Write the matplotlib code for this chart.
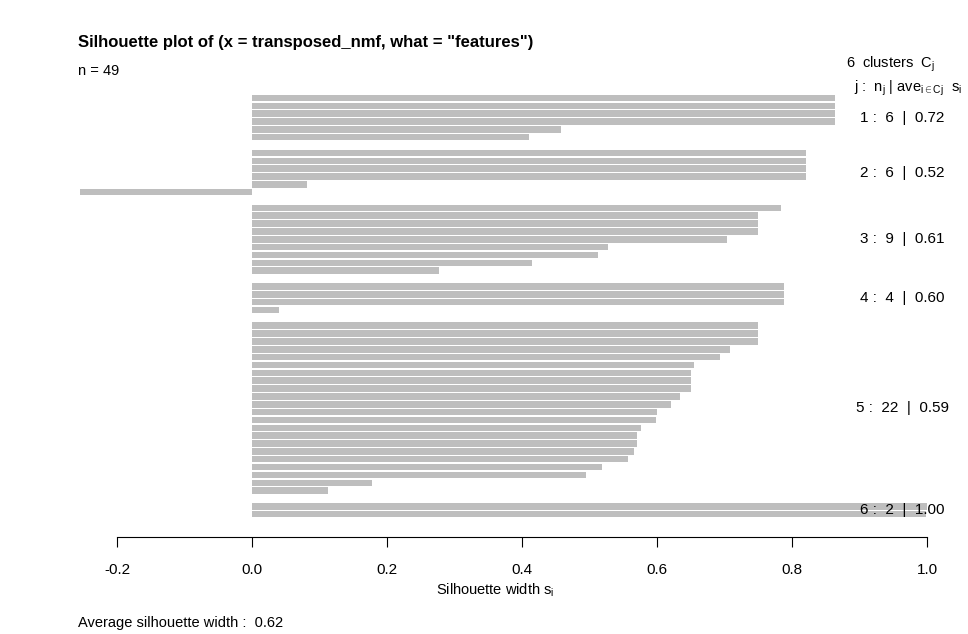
import matplotlib
matplotlib.use("Agg")
import matplotlib.pyplot as plt

plt.rcParams['font.family'] = ['Liberation Sans', 'DejaVu Sans']
plt.rcParams['mathtext.fontset'] = 'custom'
plt.rcParams['mathtext.rm'] = 'Liberation Sans'
plt.rcParams['mathtext.it'] = 'Liberation Sans'

# silhouette widths per cluster, sorted within cluster
clusters = [1, 2, 3, 4, 5, 6]
sil_widths = [
    [0.864, 0.864, 0.864, 0.864, 0.457, 0.410],
    [0.820, 0.820, 0.820, 0.820, 0.082, -0.255],
    [0.784, 0.749, 0.749, 0.749, 0.703, 0.528, 0.513, 0.415, 0.277],
    [0.788, 0.788, 0.788, 0.040],
    [0.749, 0.749, 0.749, 0.708, 0.693, 0.655, 0.651, 0.650, 0.650, 0.634, 0.621,
     0.600, 0.598, 0.576, 0.570, 0.570, 0.566, 0.557, 0.518, 0.495, 0.178, 0.112],
    [1.000, 0.999],
]
cluster_avg = ["0.72", "0.52", "0.61", "0.60", "0.59", "1.00"]
avg_width = "0.62"

W, H = 968, 634
fig = plt.figure(figsize=(W / 100, H / 100), dpi=100)
ax = fig.add_axes([80 / W, 1 - 537 / H, (927 - 80) / W, (537 - 94) / H])

pos = 0
for k, vals in zip(clusters, sil_widths):
    ys = list(range(pos, pos + len(vals)))
    ax.barh(ys, vals, height=0.83, color='#bebebe', left=0)
    mid = (ys[0] + ys[-1]) / 2
    ax.text(0.963, mid, f"{k} :  {len(vals)}  |  {cluster_avg[k - 1]}",
            ha='center', va='center', fontsize=11, clip_on=False)
    pos += len(vals) + 1

ax.set_xlim(-0.255, 1.0)
ax.set_ylim(55.9, -0.5)
for s in ['top', 'right', 'left']:
    ax.spines[s].set_visible(False)
ax.spines['bottom'].set_bounds(-0.2, 1.0)
ax.set_yticks([])
ax.set_xticks([-0.2, 0.0, 0.2, 0.4, 0.6, 0.8, 1.0])
ax.set_xticklabels(['-0.2', '0.0', '0.2', '0.4', '0.6', '0.8', '1.0'])
ax.tick_params(axis='x', labelsize=11, length=7, pad=12)

fig.text(78 / W, 1 - 43 / H, 'Silhouette plot of (x = transposed_nmf, what = "features")',
         fontsize=12, fontweight='bold', va='center')
fig.text(78 / W, 1 - 71 / H, 'n = 49', fontsize=10.5, va='center')
fig.text(891 / W, 1 - 64 / H, r'6  clusters  C$_{\mathrm{j}}$', fontsize=10.5,
         va='center', ha='center')
fig.text(908 / W, 1 - 88 / H,
         r'j :  n$_{\mathrm{j}}$ | ave$_{\mathrm{i}\in\mathrm{Cj}}$  s$_{\mathrm{i}}$',
         fontsize=10.5, va='center', ha='center')
fig.text(495 / W, 1 - 590 / H, r'Silhouette width s$_{\mathrm{i}}$', fontsize=10.5,
         va='center', ha='center')
fig.text(78 / W, 1 - 623 / H, f'Average silhouette width :  {avg_width}',
         fontsize=10.5, va='center')

fig.savefig('out.png', dpi=100)
